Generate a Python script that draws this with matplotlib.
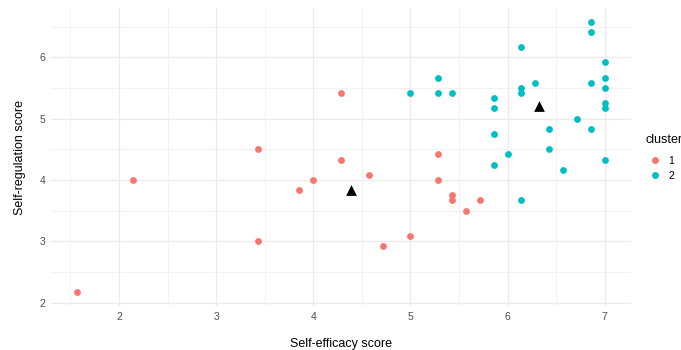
import matplotlib
matplotlib.use("Agg")
import matplotlib.pyplot as plt
from matplotlib.ticker import MultipleLocator
from matplotlib.lines import Line2D

plt.rcParams['font.family'] = ['Liberation Sans', 'DejaVu Sans']

# Cluster 1 members
c1_efficacy = [1.571, 2.143, 3.429, 3.429, 3.857, 4.0, 4.286, 4.286, 4.571,
               4.714, 5.0, 5.286, 5.286, 5.429, 5.429, 5.571, 5.714]
c1_regulation = [2.167, 4.0, 4.5, 3.0, 3.833, 4.0, 4.333, 5.417, 4.083,
                 2.917, 3.083, 4.417, 4.0, 3.75, 3.667, 3.5, 3.667]

# Cluster 2 members
c2_efficacy = [5.0, 5.286, 5.286, 5.429, 5.857, 5.857, 5.857, 5.857, 6.0,
               6.143, 6.143, 6.143, 6.143, 6.286, 6.429, 6.429, 6.571, 6.714,
               6.857, 6.857, 6.857, 6.857, 7.0, 7.0, 7.0, 7.0, 7.0, 7.0]
c2_regulation = [5.417, 5.667, 5.417, 5.417, 5.333, 5.167, 4.75, 4.25, 4.417,
                 3.667, 6.167, 5.5, 5.417, 5.583, 4.833, 4.5, 4.167, 5.0,
                 6.583, 6.417, 5.583, 4.833, 5.917, 5.667, 5.5, 5.25, 5.167, 4.333]

# Cluster centres
centre_efficacy = [4.385, 6.32]
centre_regulation = [3.84, 5.21]

cluster_labels = ["1", "2"]
cluster_colors = ["#F8766D", "#00BFC4"]

x_ticks = [2, 3, 4, 5, 6, 7]
y_ticks = [2, 3, 4, 5, 6]

fig = plt.figure(figsize=(6.81, 3.5), dpi=100)
ax = fig.add_axes([0.0749, 0.1257, 0.8517, 0.8513])

ax.scatter(c1_efficacy, c1_regulation, s=24, color=cluster_colors[0],
           linewidths=0, zorder=3)
ax.scatter(c2_efficacy, c2_regulation, s=24, color=cluster_colors[1],
           linewidths=0, zorder=3)
ax.scatter(centre_efficacy, centre_regulation, s=60, marker="^",
           color="black", linewidths=0, zorder=4)

# ggplot-style 5% expansion of the data range
all_x = c1_efficacy + c2_efficacy
all_y = c1_regulation + c2_regulation
xr = max(all_x) - min(all_x)
yr = max(all_y) - min(all_y)
ax.set_xlim(min(all_x) - 0.05 * xr, max(all_x) + 0.05 * xr)
ax.set_ylim(min(all_y) - 0.05 * yr, max(all_y) + 0.05 * yr)

ax.set_xticks(x_ticks)
ax.set_yticks(y_ticks)
ax.xaxis.set_minor_locator(MultipleLocator(0.5))
ax.yaxis.set_minor_locator(MultipleLocator(0.5))
ax.grid(True, which="major", color="#EBEBEB", linewidth=0.9)
ax.grid(True, which="minor", color="#EBEBEB", linewidth=0.45)
ax.set_axisbelow(True)
for sp in ax.spines.values():
    sp.set_visible(False)
ax.tick_params(which="both", length=0, labelsize=7.5, labelcolor="#4D4D4D")
ax.tick_params(axis="x", pad=4)
ax.tick_params(axis="y", pad=4)

ax.set_xlabel("Self-efficacy score", fontsize=9, color="black", labelpad=12)
ax.set_ylabel("Self-regulation score", fontsize=9, color="black", labelpad=10)

# Legend: title placed separately so the key rows sit a little lower
fig.text(646 / 681, 1 - 140 / 350, "cluster", fontsize=9, ha="left",
         va="center", color="black")
handles = [Line2D([0], [0], marker="o", linestyle="", markersize=5,
                  markerfacecolor=c, markeredgewidth=0) for c in cluster_colors]
leg = fig.legend(handles, cluster_labels, loc="upper left",
                 bbox_to_anchor=(640 / 681, 0.570), frameon=False,
                 fontsize=7.5, handlelength=1.9, handletextpad=0.3,
                 labelspacing=0.5, borderpad=0)

fig.savefig("out.png", dpi=100)
